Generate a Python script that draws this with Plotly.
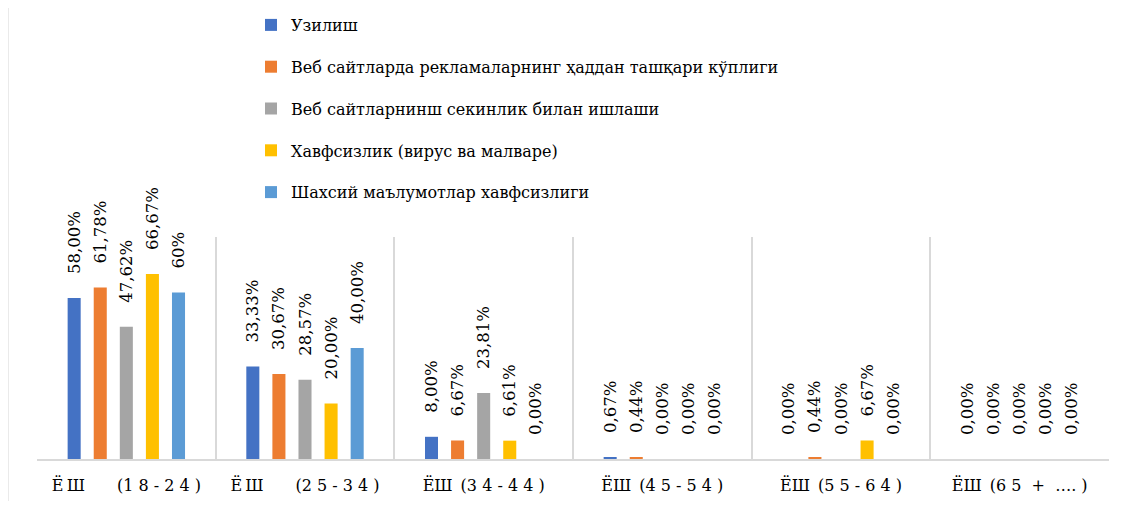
import plotly.graph_objects as go

S = "\u00a0"
categories = ["Ё\u2009Ш\u2003\u2003(1" + S + "8" + S + "-" + S + "2" + S + "4" + S + ")",
              "Ё\u2009Ш\u2003\u2003(2" + S + "5" + S + "-" + S + "3" + S + "4" + S + ")",
              "ЁШ\u2002(3" + S + "4" + S + "-" + S + "4" + S + "4" + S + ")",
              "ЁШ\u2002(4" + S + "5" + S + "-" + S + "5" + S + "4" + S + ")",
              "ЁШ\u2002(5" + S + "5" + S + "-" + S + "6" + S + "4" + S + ")",
              "ЁШ\u2002(6" + S + "5" + S + S + "+" + S + S + "…." + S + ")"]

series_names = ["Узилиш",
                "Веб сайтларда рекламаларнинг ҳаддан ташқари кўплиги",
                "Веб сайтларнинш секинлик билан ишлаши",
                "Хавфсизлик (вирус ва малваре)",
                "Шахсий маълумотлар хавфсизлиги"]

uzilish = [58.00, 33.33, 8.00, 0.67, 0.00, 0.00]
reklama = [61.78, 30.67, 6.67, 0.44, 0.44, 0.00]
sekinlik = [47.62, 28.57, 23.81, 0.00, 0.00, 0.00]
xavfsizlik = [66.67, 20.00, 6.61, 0.00, 6.67, 0.00]
shaxsiy = [60.00, 40.00, 0.00, 0.00, 0.00, 0.00]

uzilish_lbl = ["58,00%", "33,33%", "8,00%", "0,67%", "0,00%", "0,00%"]
reklama_lbl = ["61,78%", "30,67%", "6,67%", "0,44%", "0,44%", "0,00%"]
sekinlik_lbl = ["47,62%", "28,57%", "23,81%", "0,00%", "0,00%", "0,00%"]
xavfsizlik_lbl = ["66,67%", "20,00%", "6,61%", "0,00%", "6,67%", "0,00%"]
shaxsiy_lbl = ["60%", "40,00%", "0,00%", "0,00%", "0,00%", "0,00%"]

colors = ["#4472C4", "#ED7D31", "#A5A5A5", "#FFC000", "#5B9BD5"]

values = [uzilish, reklama, sekinlik, xavfsizlik, shaxsiy]
labels = [uzilish_lbl, reklama_lbl, sekinlik_lbl, xavfsizlik_lbl, shaxsiy_lbl]

FONT = "'DejaVu Serif', serif"
PAD = "<span style='color:rgba(0,0,0,0)'>0,,</span>"

W, H = 1118, 493  # page is offset by the 8px body margin

fig = go.Figure()
for i, (name, vals, lbls, col) in enumerate(zip(series_names, values, labels, colors)):
    fig.add_trace(go.Bar(
        x=categories, y=vals, name=name,
        marker=dict(color=col, line=dict(width=0)),
        text=[PAD + t for t in lbls],
        textposition="outside",
        textangle=-90,
        textfont=dict(family=FONT, size=16.5, color="#000000"),
        cliponaxis=False,
        constraintext="none",
        legendgroup=f"g{i}",
        hoverinfo="skip",
    ))

fig.update_layout(
    width=W, height=H,
    margin=dict(l=29, r=17, t=229, b=42, autoexpand=False),
    paper_bgcolor="white", plot_bgcolor="white",
    barmode="group", bargap=0.27, bargroupgap=0.5,
    font=dict(family=FONT, color="#000000"),
    showlegend=True,
    legend=dict(
        xref="container", yref="container",
        x=243 / W, y=1 + 10 / H, xanchor="left", yanchor="top",
        font=dict(family=FONT, size=16, color="#000000"),
        tracegroupgap=18, bgcolor="rgba(0,0,0,0)",
    ),
    xaxis=dict(
        type="category", tickson="boundaries",
        showgrid=True, gridcolor="#d9d9d9", gridwidth=1.5,
        showline=True, linecolor="#d9d9d9", linewidth=2,
        ticks="", ticklabelstandoff=11, tickangle=0,
        tickfont=dict(family=FONT, size=16, color="#000000"),
        zeroline=False,
    ),
    yaxis=dict(
        range=[0, 80], showgrid=False, showticklabels=False,
        showline=False, zeroline=False, ticks="",
    ),
    shapes=[dict(type="line", xref="paper", yref="paper",
                 x0=-0.027, x1=-0.027, y0=-0.3, y1=2.2,
                 line=dict(color="#d9d9d9", width=1))],
)

fig.write_html("out.html")
